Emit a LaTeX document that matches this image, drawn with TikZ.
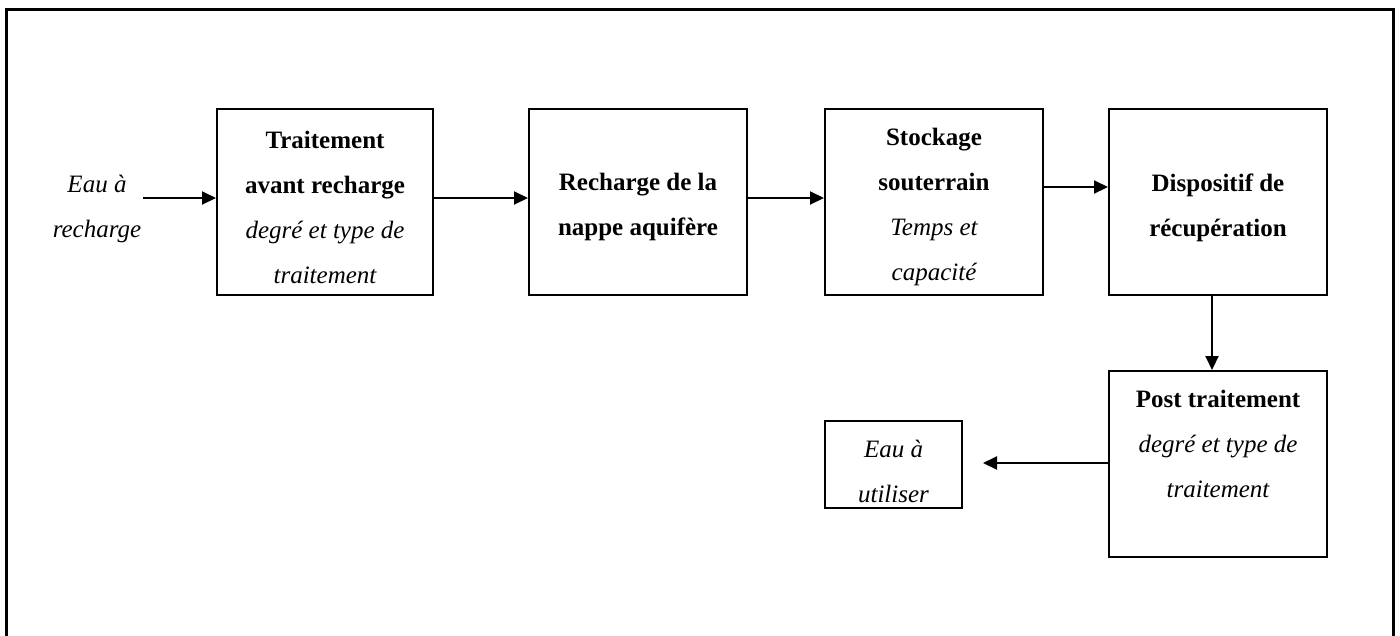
\documentclass[tikz,border=0pt]{standalone}
\usepackage{fontspec}
\setmainfont{Liberation Serif}
\usetikzlibrary{arrows.meta}
\begin{document}
\begin{tikzpicture}[x=1pt,y=-1pt,
  box/.style={draw=black,line width=2pt,minimum width=218pt,minimum height=186pt,inner sep=0pt,fill=white},
  txt/.style={align=center,font=\fontsize{25}{45}\selectfont,inner sep=0pt},
  arr/.style={line width=2pt,-{Triangle[length=14pt,width=13pt]}}]
\useasboundingbox (0,0) rectangle (1400,635);
\fill[white] (0,0) rectangle (1400,635);
\draw[line width=3.5pt] (6.5,650) -- (6.5,9.5) -- (1393.5,9.5) -- (1393.5,650);
% boxes
\node[box,minimum width=216pt] (b1) at (325,202) {};
\node[box] (b2) at (638,202) {};
\node[box] (b3) at (934,202) {};
\node[box] (b4) at (1218,202) {};
\node[box] (b5) at (1218,464) {};
\node[box,minimum width=137pt,minimum height=87pt] (out) at (893.5,464.5) {};
% texts
\node[txt] (t0) at (97,209) {\itshape Eau à\\\itshape recharge};
\node[txt] (t1) at (325,207) {\bfseries Traitement\\\bfseries avant recharge\\\itshape degré et type de\\\itshape traitement};
\node[txt] (t2) at (638,207) {\bfseries Recharge de la\\\bfseries nappe aquifère};
\node[txt] (t3) at (934,207) {\bfseries Stockage\\\bfseries souterrain\\\itshape Temps et\\\itshape capacité};
\node[txt] (t4) at (1218,208) {\bfseries Dispositif de\\\bfseries récupération};
\node[txt] (t5) at (1218,444) {\bfseries Post traitement\\\itshape degré et type de\\\itshape traitement};
\node[txt] (t6) at (893.5,471) {\itshape Eau à\\\itshape utiliser};
% connectors
\coordinate (in) at (143,198);
\draw[arr] (in) -- ([yshift=4pt]b1.west);
\draw[arr] ([yshift=4pt]b1.east) -- ([yshift=4pt]b2.west);
\draw[arr] ([yshift=4pt]b2.east) -- ([yshift=4pt]b3.west);
\draw[arr] ([yshift=15pt]b3.east) -- ([yshift=15pt]b4.west);
\draw[arr] ([xshift=-6pt]b4.south) -- ([xshift=-6pt]b5.north);
\coordinate (outtip) at ([xshift=20pt,yshift=1.5pt]out.east);
\draw[arr] ([yshift=1pt]b5.west) -- (outtip);
\end{tikzpicture}
\end{document}
